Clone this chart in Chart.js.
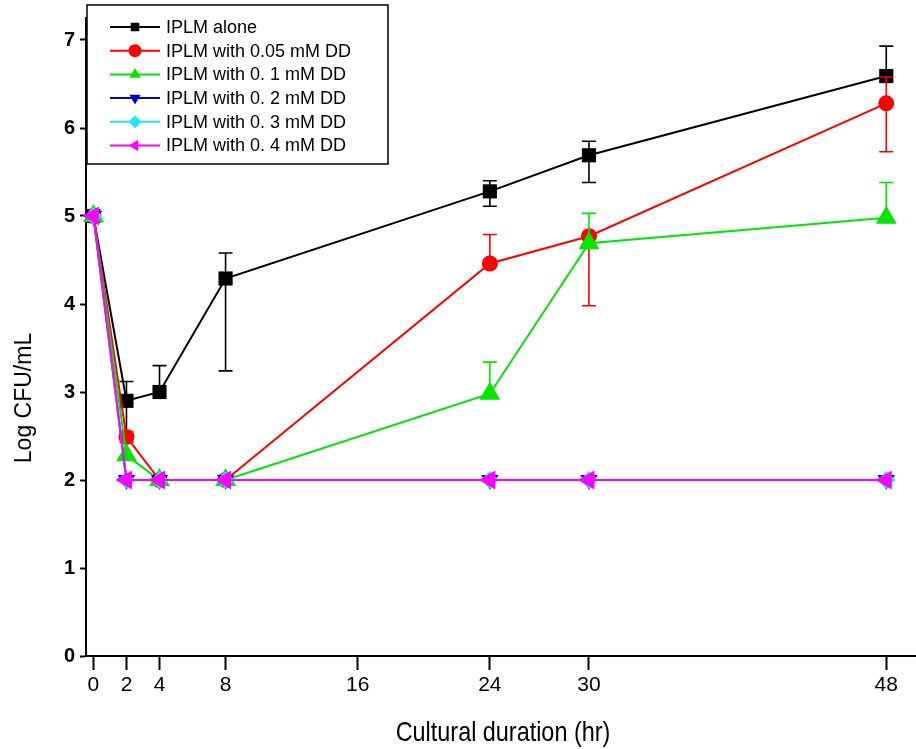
<!DOCTYPE html>
<html>
<head>
<meta charset="utf-8">
<script src="https://cdn.jsdelivr.net/npm/chart.js@4"></script>
<style>
  html, body { margin: 0; padding: 0; background: #fff; }
</style>
</head>
<body>
<canvas id="chart" width="916" height="749"></canvas>
<script>
// sampling times (hr) and axis ticks
const hours = [0, 2, 4, 8, 24, 30, 48]
const xTicks = [0, 2, 4, 8, 16, 24, 30, 48]
const yTicks = [0, 1, 2, 3, 4, 5, 6, 7]

const labels = [
  'IPLM alone',
  'IPLM with 0.05 mM DD',
  'IPLM with 0. 1 mM DD',
  'IPLM with 0. 2 mM DD',
  'IPLM with 0. 3 mM DD',
  'IPLM with 0. 4 mM DD'
]

// Log CFU/mL
const alone = [5.0, 2.9, 3.0, 4.29, 5.28, 5.69, 6.59]
const aloneErrUp = [0, 0.22, 0.3, 0.29, 0.12, 0.16, 0.34]
const aloneErrDown = [0, 0.42, 0, 1.05, 0.17, 0.31, 0]

const dd005 = [5.0, 2.49, 2.0, 2.0, 4.46, 4.77, 6.28]
const dd005ErrUp = [0, 0.06, 0, 0, 0.33, 0, 0.3]
const dd005ErrDown = [0, 0.06, 0, 0, 0, 0.79, 0.55]

const dd01 = [5.0, 2.28, 2.0, 2.0, 2.98, 4.69, 4.98]
const dd01ErrUp = [0, 0, 0, 0, 0.36, 0.34, 0.4]
const dd01ErrDown = [0, 0, 0, 0, 0, 0, 0]

const dd02 = [5.0, 2.0, 2.0, 2.0, 2.0, 2.0, 2.0]
const dd03 = [5.0, 2.0, 2.0, 2.0, 2.0, 2.0, 2.0]
const dd04 = [5.0, 2.0, 2.0, 2.0, 2.0, 2.0, 2.0]

const colors = ['#000000', '#ff0000', '#00e600', '#0000cc', '#22e5f0', '#ff00ff']

const pts = vals => hours.map((h, i) => ({ x: h, y: vals[i] }))

const series = (i, vals, style, radius, rotation, up, down) => ({
  label: labels[i],
  data: pts(vals),
  borderColor: colors[i],
  backgroundColor: colors[i],
  borderWidth: 2,
  pointStyle: style,
  pointRadius: radius,
  pointRotation: rotation,
  pointBorderWidth: 0,
  tension: 0,
  clip: false,
  order: 6 - i,
  errUp: up,
  errDown: down
})

const datasets = [
  series(0, alone, 'rect', 10, 0, aloneErrUp, aloneErrDown),
  series(1, dd005, 'circle', 8, 0, dd005ErrUp, dd005ErrDown),
  series(2, dd01, 'triangle', 12, 0, dd01ErrUp, dd01ErrDown),
  series(3, dd02, 'triangle', 10, 180),
  series(4, dd03, 'rectRot', 9, 0),
  series(5, dd04, 'triangle', 11, 270)
]

const FONT = "'Liberation Sans', Arial, sans-serif"

// error bars go under each dataset's markers
const errorBars = {
  id: 'errorBars',
  beforeDatasetDraw (chart, args) {
    const ds = chart.data.datasets[args.index]
    if (!ds.errUp) return
    const { ctx, scales: { x, y } } = chart
    ctx.save()
    ctx.strokeStyle = ds.borderColor
    ctx.lineWidth = 1.6
    ds.data.forEach((p, i) => {
      const px = x.getPixelForValue(p.x)
      const ends = []
      if (ds.errUp[i]) ends.push(y.getPixelForValue(p.y + ds.errUp[i]))
      if (ds.errDown[i]) ends.push(y.getPixelForValue(p.y - ds.errDown[i]))
      const py = y.getPixelForValue(p.y)
      ends.forEach(e => {
        ctx.beginPath()
        ctx.moveTo(px, py)
        ctx.lineTo(px, e)
        ctx.moveTo(px - 7, e)
        ctx.lineTo(px + 7, e)
        ctx.stroke()
      })
    })
    ctx.restore()
  }
}

// axis titles and boxed legend in the top-left corner
const decorations = {
  id: 'decorations',
  afterDraw (chart) {
    const ctx = chart.ctx
    ctx.save()
    ctx.fillStyle = '#000'
    ctx.textAlign = 'center'
    ctx.textBaseline = 'middle'

    // narrow look of the original title
    ctx.save()
    ctx.translate(503, 733)
    ctx.scale(0.9, 1.08)
    ctx.font = '26px ' + FONT
    ctx.fillText('Cultural duration (hr)', 0, 0)
    ctx.restore()

    ctx.save()
    ctx.translate(25, 398)
    ctx.rotate(-Math.PI / 2)
    ctx.font = '23px ' + FONT
    ctx.fillText('Log CFU/mL', 0, 0)
    ctx.restore()

    // legend
    ctx.fillStyle = '#fff'
    ctx.fillRect(87, 5, 301, 159)
    ctx.strokeStyle = '#000'
    ctx.lineWidth = 1.5
    ctx.strokeRect(87, 5, 301, 159)
    ctx.textAlign = 'left'
    ctx.font = '18px ' + FONT
    chart.data.datasets.forEach((ds, i) => {
      const ly = 27 + i * 23.7
      ctx.strokeStyle = ds.borderColor
      ctx.lineWidth = 2
      ctx.beginPath()
      ctx.moveTo(110, ly)
      ctx.lineTo(160, ly)
      ctx.stroke()
      ctx.fillStyle = ds.backgroundColor
      Chart.helpers.drawPoint(ctx, {
        pointStyle: ds.pointStyle,
        rotation: ds.pointRotation,
        radius: ds.pointStyle === 'rect' ? 6 : 6.5,
        borderWidth: 0
      }, 135, ly)
      ctx.fillStyle = '#000'
      ctx.fillText(ds.label, 166, ly + 1)
    })
    ctx.restore()
  }
}

new Chart(document.getElementById('chart'), {
  type: 'line',
  data: { datasets },
  plugins: [errorBars, decorations],
  options: {
    responsive: false,
    animation: false,
    layout: { autoPadding: false, padding: { top: 18, right: 0, left: 0, bottom: 0 } },
    plugins: {
      legend: { display: false },
      tooltip: { enabled: false }
    },
    scales: {
      x: {
        type: 'linear',
        min: -0.45,
        max: 49.8,
        afterBuildTicks: s => { s.ticks = xTicks.map(v => ({ value: v })) },
        afterFit: s => { s.height = 93; s.paddingLeft = 0; s.paddingRight = 0 },
        border: { display: true, color: '#000', width: 2 },
        grid: { drawOnChartArea: false, drawTicks: true, tickLength: 14, tickWidth: 2, color: '#000' },
        ticks: { color: '#000', padding: 3, font: { family: FONT, size: 21 }, maxRotation: 0 }
      },
      y: {
        min: 0,
        max: 7.25,
        afterBuildTicks: s => { s.ticks = yTicks.map(v => ({ value: v })) },
        afterFit: s => { s.width = 86; s.paddingTop = 0; s.paddingBottom = 0 },
        border: { display: true, color: '#000', width: 2 },
        grid: { drawOnChartArea: false, drawTicks: true, tickLength: 6, tickWidth: 2, color: '#000' },
        ticks: { color: '#000', padding: 5, font: { family: FONT, size: 20, weight: 'bold' } }
      }
    }
  }
})
</script>
</body>
</html>
